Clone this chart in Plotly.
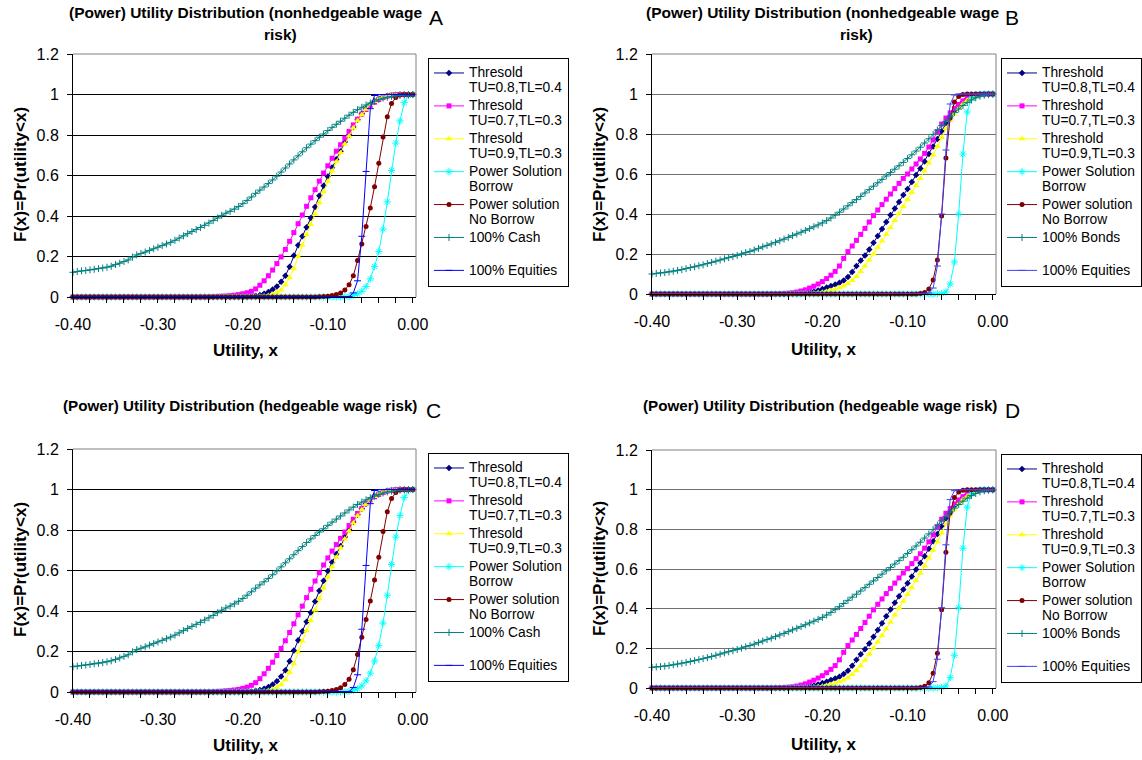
import plotly.graph_objects as go

FONT = "Liberation Sans, Arial, sans-serif"
W, H = 1142, 760

# ---------------- data (x grid and CDF values) ----------------
X = [-0.400, -0.395, -0.390, -0.385, -0.380, -0.375, -0.370, -0.365, -0.360, -0.355,
     -0.350, -0.345, -0.340, -0.335, -0.330, -0.325, -0.320, -0.315, -0.310, -0.305,
     -0.300, -0.295, -0.290, -0.285, -0.280, -0.275, -0.270, -0.265, -0.260, -0.255,
     -0.250, -0.245, -0.240, -0.235, -0.230, -0.225, -0.220, -0.215, -0.210, -0.205,
     -0.200, -0.195, -0.190, -0.185, -0.180, -0.175, -0.170, -0.165, -0.160, -0.155,
     -0.150, -0.145, -0.140, -0.135, -0.130, -0.125, -0.120, -0.115, -0.110, -0.105,
     -0.100, -0.095, -0.090, -0.085, -0.080, -0.075, -0.070, -0.065, -0.060, -0.055,
     -0.050, -0.045, -0.040, -0.035, -0.030, -0.025, -0.020, -0.015, -0.010, -0.005,
     0.000]

# Panel A: nonhedgeable wage risk
A_navy = [0, 0, 0, 0, 0, 0, 0, 0, 0, 0,
          0, 0, 0, 0, 0, 0, 0, 0, 0, 0,
          0, 0, 0, 0, 0, 0, 0, 0, 0, 0,
          0, 0, 0, 0, 0, 0, 0, 0, 0, 0,
          0, .001, .003, .006, .010, .016, .025, .037, .052, .075,
          .105, .150, .205, .255, .300, .345, .390, .445, .500, .550,
          .595, .640, .680, .720, .765, .800, .840, .875, .905, .930,
          .950, .967, .980, .988, .994, .997, .999, 1, 1, 1,
          1]
A_pink = [0, 0, 0, 0, 0, 0, 0, 0, 0, 0,
          0, 0, 0, 0, 0, 0, 0, 0, 0, 0,
          0, 0, 0, 0, 0, 0, 0, 0, 0, 0,
          0, .001, .001, .002, .003, .004, .005, .007, .009, .012,
          .016, .021, .028, .040, .058, .080, .105, .133, .165, .198,
          .235, .275, .318, .362, .405, .448, .490, .530, .572, .612,
          .648, .685, .720, .752, .785, .818, .850, .878, .903, .926,
          .946, .962, .975, .985, .992, .996, .999, 1, 1, 1,
          1]
A_yellow = [0, 0, 0, 0, 0, 0, 0, 0, 0, 0,
            0, 0, 0, 0, 0, 0, 0, 0, 0, 0,
            0, 0, 0, 0, 0, 0, 0, 0, 0, 0,
            0, 0, 0, 0, 0, 0, 0, 0, 0, 0,
            0, 0, 0, .001, .002, .004, .008, .014, .022, .035,
            .060, .095, .140, .200, .255, .308, .358, .410, .465, .520,
            .572, .622, .668, .712, .755, .795, .835, .870, .900, .927,
            .949, .966, .979, .988, .993, .997, .999, 1, 1, 1,
            1]
A_cyan = [0, 0, 0, 0, 0, 0, 0, 0, 0, 0,
          0, 0, 0, 0, 0, 0, 0, 0, 0, 0,
          0, 0, 0, 0, 0, 0, 0, 0, 0, 0,
          0, 0, 0, 0, 0, 0, 0, 0, 0, 0,
          0, 0, 0, 0, 0, 0, 0, 0, 0, 0,
          0, 0, 0, 0, 0, 0, 0, 0, 0, 0,
          0, 0, 0, 0, .001, .003, .008, .015, .028, .052,
          .090, .150, .225, .335, .470, .625, .760, .870, .960, .995,
          1]
A_darkred = [0, 0, 0, 0, 0, 0, 0, 0, 0, 0,
             0, 0, 0, 0, 0, 0, 0, 0, 0, 0,
             0, 0, 0, 0, 0, 0, 0, 0, 0, 0,
             0, 0, 0, 0, 0, 0, 0, 0, 0, 0,
             0, 0, 0, 0, 0, 0, 0, 0, 0, 0,
             0, 0, 0, 0, 0, 0, 0, 0, .001, .002,
             .004, .007, .012, .020, .035, .060, .105, .180, .262, .348,
             .440, .545, .660, .790, .890, .955, .985, .997, 1, 1,
             1]
A_cash = [.122, .126, .129, .131, .134, .137, .140, .143, .147, .152,
          .160, .167, .175, .183, .197, .208, .215, .222, .230, .238,
          .246, .254, .262, .270, .280, .291, .302, .313, .323, .333,
          .343, .354, .365, .377, .390, .403, .414, .423, .434, .447,
          .461, .477, .494, .512, .528, .543, .560, .578, .597, .617,
          .637, .657, .677, .697, .717, .737, .755, .772, .789, .805,
          .822, .838, .853, .868, .883, .898, .912, .925, .937, .948,
          .958, .967, .975, .982, .987, .991, .994, .996, .998, .999,
          1]
A_equity = [0, 0, 0, 0, 0, 0, 0, 0, 0, 0,
            0, 0, 0, 0, 0, 0, 0, 0, 0, 0,
            0, 0, 0, 0, 0, 0, 0, 0, 0, 0,
            0, 0, 0, 0, 0, 0, 0, 0, 0, 0,
            0, 0, 0, 0, 0, 0, 0, 0, 0, 0,
            0, 0, 0, 0, 0, 0, 0, 0, 0, 0,
            0, 0, 0, 0, 0, .002, .020, .080, .300, .620,
            .930, .995, 1, 1, 1, 1, 1, 1, 1, 1,
            1]

# Panel B: nonhedgeable wage risk (threshold / bonds version)
B_navy = [0, 0, 0, 0, 0, 0, 0, 0, 0, 0,
          0, 0, 0, 0, 0, 0, 0, 0, 0, 0,
          0, 0, 0, 0, 0, 0, 0, 0, 0, 0,
          0, 0, 0, .001, .002, .004, .006, .009, .013, .018,
          .025, .032, .040, .048, .056, .068, .085, .110, .140, .168,
          .192, .222, .256, .290, .325, .360, .395, .428, .460, .495,
          .525, .560, .595, .628, .662, .700, .738, .775, .815, .855,
          .890, .918, .942, .961, .976, .986, .993, .997, .999, 1,
          1]
B_pink = [0, 0, 0, 0, 0, 0, 0, 0, 0, 0,
          0, 0, 0, 0, 0, 0, 0, 0, 0, 0,
          0, 0, 0, 0, 0, 0, 0, 0, 0, .001,
          .002, .003, .004, .006, .010, .015, .021, .030, .039, .050,
          .062, .077, .094, .113, .140, .178, .212, .240, .268, .298,
          .328, .360, .392, .420, .447, .474, .500, .527, .553, .578,
          .600, .625, .650, .675, .703, .735, .770, .812, .850, .880,
          .905, .928, .948, .965, .978, .987, .993, .997, .999, 1,
          1]
B_yellow = [0, 0, 0, 0, 0, 0, 0, 0, 0, 0,
            0, 0, 0, 0, 0, 0, 0, 0, 0, 0,
            0, 0, 0, 0, 0, 0, 0, 0, 0, 0,
            0, 0, 0, 0, 0, 0, .001, .002, .004, .006,
            .009, .013, .018, .024, .031, .040, .052, .068, .088, .112,
            .140, .170, .200, .232, .265, .298, .332, .368, .403, .437,
            .472, .507, .542, .578, .615, .655, .695, .737, .782, .828,
            .868, .900, .928, .950, .967, .980, .989, .995, .998, 1,
            1]
B_cyan = [0, 0, 0, 0, 0, 0, 0, 0, 0, 0,
          0, 0, 0, 0, 0, 0, 0, 0, 0, 0,
          0, 0, 0, 0, 0, 0, 0, 0, 0, 0,
          0, 0, 0, 0, 0, 0, 0, 0, 0, 0,
          0, 0, 0, 0, 0, 0, 0, 0, 0, 0,
          0, 0, 0, 0, 0, 0, 0, 0, 0, 0,
          0, 0, 0, 0, 0, 0, 0, .001, .002, .010,
          .050, .160, .400, .700, .910, .980, .996, 1, 1, 1,
          1]
B_darkred = [0, 0, 0, 0, 0, 0, 0, 0, 0, 0,
             0, 0, 0, 0, 0, 0, 0, 0, 0, 0,
             0, 0, 0, 0, 0, 0, 0, 0, 0, 0,
             0, 0, 0, 0, 0, 0, 0, 0, 0, 0,
             0, 0, 0, 0, 0, 0, 0, 0, 0, 0,
             0, 0, 0, 0, 0, 0, 0, 0, 0, 0,
             0, 0, 0, .002, .008, .025, .070, .170, .390, .680,
             .880, .960, .988, .997, 1, 1, 1, 1, 1, 1,
             1]
B_bonds = [.100, .103, .105, .107, .110, .114, .118, .122, .127, .132,
           .136, .141, .146, .152, .158, .164, .170, .176, .182, .187,
           .193, .200, .207, .213, .220, .228, .236, .243, .250, .258,
           .266, .274, .283, .292, .300, .309, .318, .327, .336, .345,
           .355, .367, .380, .394, .409, .425, .441, .457, .472, .488,
           .505, .522, .539, .556, .573, .590, .607, .624, .641, .658,
           .677, .696, .715, .734, .755, .776, .798, .820, .842, .864,
           .886, .907, .925, .942, .957, .970, .981, .989, .994, .997,
           .999]
B_equity = [0, 0, 0, 0, 0, 0, 0, 0, 0, 0,
            0, 0, 0, 0, 0, 0, 0, 0, 0, 0,
            0, 0, 0, 0, 0, 0, 0, 0, 0, 0,
            0, 0, 0, 0, 0, 0, 0, 0, 0, 0,
            0, 0, 0, 0, 0, 0, 0, 0, 0, 0,
            0, 0, 0, 0, 0, 0, 0, 0, 0, 0,
            0, 0, 0, 0, .001, .005, .030, .140, .400, .720,
            .950, .995, 1, 1, 1, 1, 1, 1, 1, 1,
            1]

# Panel C: hedgeable wage risk
C_navy = [0, 0, 0, 0, 0, 0, 0, 0, 0, 0,
          0, 0, 0, 0, 0, 0, 0, 0, 0, 0,
          0, 0, 0, 0, 0, 0, 0, 0, 0, 0,
          0, 0, 0, 0, 0, 0, 0, 0, 0, 0,
          0, .001, .003, .006, .010, .016, .025, .037, .053, .077,
          .108, .152, .205, .255, .300, .347, .393, .447, .500, .550,
          .597, .641, .681, .721, .765, .802, .840, .875, .905, .930,
          .950, .967, .980, .988, .994, .997, .999, 1, 1, 1,
          1]
C_pink = [0, 0, 0, 0, 0, 0, 0, 0, 0, 0,
          0, 0, 0, 0, 0, 0, 0, 0, 0, 0,
          0, 0, 0, 0, 0, 0, 0, 0, 0, 0,
          0, .001, .001, .002, .003, .004, .006, .008, .010, .013,
          .018, .024, .033, .046, .066, .090, .117, .147, .180, .215,
          .253, .294, .337, .381, .424, .466, .507, .548, .589, .627,
          .662, .696, .728, .759, .790, .822, .853, .882, .907, .930,
          .949, .964, .976, .985, .992, .996, .999, 1, 1, 1,
          1]
C_yellow = [0, 0, 0, 0, 0, 0, 0, 0, 0, 0,
            0, 0, 0, 0, 0, 0, 0, 0, 0, 0,
            0, 0, 0, 0, 0, 0, 0, 0, 0, 0,
            0, 0, 0, 0, 0, 0, 0, 0, 0, 0,
            0, 0, 0, .001, .002, .004, .008, .014, .022, .036,
            .061, .096, .140, .198, .252, .303, .353, .405, .460, .515,
            .568, .619, .666, .711, .755, .795, .835, .870, .900, .927,
            .949, .966, .979, .988, .993, .997, .999, 1, 1, 1,
            1]
C_cyan = [0, 0, 0, 0, 0, 0, 0, 0, 0, 0,
          0, 0, 0, 0, 0, 0, 0, 0, 0, 0,
          0, 0, 0, 0, 0, 0, 0, 0, 0, 0,
          0, 0, 0, 0, 0, 0, 0, 0, 0, 0,
          0, 0, 0, 0, 0, 0, 0, 0, 0, 0,
          0, 0, 0, 0, 0, 0, 0, 0, 0, 0,
          0, 0, 0, 0, .001, .003, .008, .016, .030, .055,
          .093, .153, .230, .340, .478, .630, .765, .872, .960, .995,
          1]
C_darkred = [0, 0, 0, 0, 0, 0, 0, 0, 0, 0,
             0, 0, 0, 0, 0, 0, 0, 0, 0, 0,
             0, 0, 0, 0, 0, 0, 0, 0, 0, 0,
             0, 0, 0, 0, 0, 0, 0, 0, 0, 0,
             0, 0, 0, 0, 0, 0, 0, 0, 0, 0,
             0, 0, 0, 0, 0, 0, 0, 0, .001, .002,
             .004, .007, .012, .021, .037, .063, .110, .185, .270, .358,
             .450, .553, .665, .792, .890, .955, .985, .997, 1, 1,
             1]
C_cash = [.125, .128, .131, .133, .136, .139, .142, .145, .149, .154,
          .161, .168, .176, .184, .198, .209, .216, .223, .231, .239,
          .247, .255, .263, .271, .281, .292, .303, .314, .324, .334,
          .344, .355, .366, .378, .391, .404, .415, .424, .435, .448,
          .462, .478, .495, .513, .529, .544, .561, .579, .598, .618,
          .638, .658, .678, .698, .718, .738, .756, .773, .790, .806,
          .823, .839, .854, .869, .884, .899, .913, .926, .938, .949,
          .959, .968, .976, .983, .988, .992, .995, .997, .998, .999,
          1]
C_equity = [0, 0, 0, 0, 0, 0, 0, 0, 0, 0,
            0, 0, 0, 0, 0, 0, 0, 0, 0, 0,
            0, 0, 0, 0, 0, 0, 0, 0, 0, 0,
            0, 0, 0, 0, 0, 0, 0, 0, 0, 0,
            0, 0, 0, 0, 0, 0, 0, 0, 0, 0,
            0, 0, 0, 0, 0, 0, 0, 0, 0, 0,
            0, 0, 0, 0, 0, .002, .022, .085, .310, .625,
            .930, .995, 1, 1, 1, 1, 1, 1, 1, 1,
            1]

# Panel D: hedgeable wage risk (threshold / bonds version)
D_navy = [0, 0, 0, 0, 0, 0, 0, 0, 0, 0,
          0, 0, 0, 0, 0, 0, 0, 0, 0, 0,
          0, 0, 0, 0, 0, 0, 0, 0, 0, 0,
          0, 0, 0, .001, .002, .004, .006, .009, .013, .018,
          .025, .032, .040, .048, .057, .070, .087, .112, .142, .170,
          .195, .225, .258, .292, .327, .362, .396, .430, .462, .497,
          .528, .562, .597, .630, .664, .702, .740, .777, .817, .856,
          .890, .918, .942, .961, .976, .986, .993, .997, .999, 1,
          1]
D_pink = [0, 0, 0, 0, 0, 0, 0, 0, 0, 0,
          0, 0, 0, 0, 0, 0, 0, 0, 0, 0,
          0, 0, 0, 0, 0, 0, 0, 0, 0, .001,
          .002, .003, .004, .006, .010, .015, .021, .030, .039, .050,
          .062, .077, .094, .113, .142, .180, .214, .242, .270, .300,
          .330, .362, .394, .422, .449, .476, .502, .529, .555, .580,
          .602, .627, .652, .677, .705, .737, .772, .813, .851, .881,
          .905, .928, .948, .965, .978, .987, .993, .997, .999, 1,
          1]
D_yellow = [0, 0, 0, 0, 0, 0, 0, 0, 0, 0,
            0, 0, 0, 0, 0, 0, 0, 0, 0, 0,
            0, 0, 0, 0, 0, 0, 0, 0, 0, 0,
            0, 0, 0, 0, 0, 0, .001, .002, .004, .006,
            .009, .013, .018, .024, .031, .040, .052, .068, .088, .112,
            .140, .170, .200, .232, .265, .298, .332, .368, .403, .437,
            .472, .507, .542, .578, .615, .655, .695, .737, .782, .828,
            .868, .900, .928, .950, .967, .980, .989, .995, .998, 1,
            1]
D_cyan = [0, 0, 0, 0, 0, 0, 0, 0, 0, 0,
          0, 0, 0, 0, 0, 0, 0, 0, 0, 0,
          0, 0, 0, 0, 0, 0, 0, 0, 0, 0,
          0, 0, 0, 0, 0, 0, 0, 0, 0, 0,
          0, 0, 0, 0, 0, 0, 0, 0, 0, 0,
          0, 0, 0, 0, 0, 0, 0, 0, 0, 0,
          0, 0, 0, 0, 0, 0, 0, .001, .002, .010,
          .052, .165, .405, .705, .912, .980, .996, 1, 1, 1,
          1]
D_darkred = [0, 0, 0, 0, 0, 0, 0, 0, 0, 0,
             0, 0, 0, 0, 0, 0, 0, 0, 0, 0,
             0, 0, 0, 0, 0, 0, 0, 0, 0, 0,
             0, 0, 0, 0, 0, 0, 0, 0, 0, 0,
             0, 0, 0, 0, 0, 0, 0, 0, 0, 0,
             0, 0, 0, 0, 0, 0, 0, 0, 0, 0,
             0, 0, 0, .002, .009, .027, .075, .175, .395, .685,
             .882, .960, .988, .997, 1, 1, 1, 1, 1, 1,
             1]
D_bonds = [.104, .106, .108, .110, .113, .117, .121, .125, .129, .134,
           .138, .143, .148, .153, .159, .165, .171, .177, .183, .188,
           .194, .201, .208, .214, .221, .229, .237, .244, .251, .259,
           .267, .275, .284, .293, .301, .310, .319, .328, .337, .346,
           .356, .368, .381, .395, .410, .426, .442, .458, .473, .489,
           .506, .523, .540, .557, .574, .591, .608, .625, .642, .659,
           .678, .697, .716, .735, .756, .777, .799, .821, .843, .865,
           .887, .907, .925, .942, .957, .970, .981, .989, .994, .997,
           .999]
D_equity = [0, 0, 0, 0, 0, 0, 0, 0, 0, 0,
            0, 0, 0, 0, 0, 0, 0, 0, 0, 0,
            0, 0, 0, 0, 0, 0, 0, 0, 0, 0,
            0, 0, 0, 0, 0, 0, 0, 0, 0, 0,
            0, 0, 0, 0, 0, 0, 0, 0, 0, 0,
            0, 0, 0, 0, 0, 0, 0, 0, 0, 0,
            0, 0, 0, 0, .001, .005, .032, .145, .405, .722,
            .950, .995, 1, 1, 1, 1, 1, 1, 1, 1,
            1]

NAMES_AC = [["Thresold", "TU=0.8,TL=0.4"], ["Thresold", "TU=0.7,TL=0.3"],
            ["Thresold", "TU=0.9,TL=0.3"], ["Power Solution", "Borrow"],
            ["Power solution", "No Borrow"], ["100% Cash", "\u00a0"], ["100% Equities"]]
NAMES_BD = [["Threshold", "TU=0.8,TL=0.4"], ["Threshold", "TU=0.7,TL=0.3"],
            ["Threshold", "TU=0.9,TL=0.3"], ["Power Solution", "Borrow"],
            ["Power solution", "No Borrow"], ["100% Bonds", "\u00a0"], ["100% Equities"]]

XTICKVALS = [-0.4, -0.3, -0.2, -0.1, 0.0]
XTICKTEXT = ["-0.40", "-0.30", "-0.20", "-0.10", "0.00"]
YTICKVALS = [0, 0.2, 0.4, 0.6, 0.8, 1.0, 1.2]
YTICKTEXT = ["0", "0.2", "0.4", "0.6", "0.8", "1", "1.2"]

TITLE_NH = "(Power) Utility Distribution (nonhedgeable wage"
TITLE_H = "(Power) Utility Distribution (hedgeable wage risk)"

# ---------------- styles ----------------
COLORS = ["#000080", "#FF00FF", "#FFFF00", "#00FFFF", "#800000", "#008080", "#0000FF"]
SYMBOLS = ["diamond", "square", "triangle-up", "asterisk", "circle", "cross-thin", "line-ew"]
MSIZE = [5, 5, 6, 6, 5, 5, 5]
MLW = [0, 0, 0, 1, 0, 1, 1]

PANELS = [
    dict(series=[A_navy, A_pink, A_yellow, A_cyan, A_darkred, A_cash, A_equity], names=NAMES_AC,
         xpx=(73, 416), ypx=(54, 297), grid="#000000", leg=(428, 58)),
    dict(series=[B_navy, B_pink, B_yellow, B_cyan, B_darkred, B_bonds, B_equity], names=NAMES_BD,
         xpx=(652, 996), ypx=(54, 294), grid="#707070", leg=(1001, 58)),
    dict(series=[C_navy, C_pink, C_yellow, C_cyan, C_darkred, C_cash, C_equity], names=NAMES_AC,
         xpx=(73, 416), ypx=(449, 692), grid="#000000", leg=(428, 453)),
    dict(series=[D_navy, D_pink, D_yellow, D_cyan, D_darkred, D_bonds, D_equity], names=NAMES_BD,
         xpx=(652, 996), ypx=(450, 688), grid="#707070", leg=(1001, 454)),
]


def lab(lines):
    return "<br>".join("<span style='font-size:13.8px'>%s</span>" % s for s in lines)


fig = go.Figure()
layout = dict(width=W, height=H, margin=dict(l=0, r=0, t=0, b=0, autoexpand=False),
              paper_bgcolor="white", plot_bgcolor="white", showlegend=True,
              font=dict(family=FONT, color="black"))
shapes = []

for p, P in enumerate(PANELS):
    sfx = "" if p == 0 else str(p + 1)
    xa, ya = "x" + sfx, "y" + sfx
    legid = "legend" + sfx
    for k, ys in enumerate(P["series"]):
        col = COLORS[k]
        if p in (1, 3) and k == 6:
            col = "#3F3FFF"
        fig.add_trace(go.Scatter(
            x=X, y=ys, mode="lines+markers", name=lab(P["names"][k]),
            line=dict(color=col, width=1),
            marker=dict(symbol=SYMBOLS[k], size=MSIZE[k], color=col,
                        line=dict(color=col, width=MLW[k])),
            xaxis=xa, yaxis=ya, legend=legid, cliponaxis=False, hoverinfo="skip"))
    x0, x1 = P["xpx"]
    y0, y1 = P["ypx"]
    layout["xaxis" + sfx] = dict(
        domain=[x0 / W, x1 / W], range=[-0.4, 0.0038], anchor=ya,
        tickmode="array", tickvals=XTICKVALS, ticktext=XTICKTEXT,
        ticks="outside", ticklen=5, tickcolor="black", showgrid=False, zeroline=False,
        showline=True, linecolor="black", linewidth=1,
        tickfont=dict(family=FONT, size=16, color="black"), ticklabelstandoff=8,
        minor=dict(tickmode="linear", tick0=0, dtick=0.02, ticks="outside", ticklen=5,
                   tickcolor="black", showgrid=False))
    layout["yaxis" + sfx] = dict(
        domain=[1 - y1 / H, 1 - y0 / H], range=[0, 1.2], anchor=xa,
        tickmode="array", tickvals=YTICKVALS, ticktext=YTICKTEXT,
        ticks="outside", ticklen=5, tickcolor="black", showgrid=True, gridcolor=P["grid"],
        gridwidth=1, zeroline=False, showline=True, linecolor="black", linewidth=1,
        tickfont=dict(family=FONT, size=16, color="black"), ticklabelstandoff=5)
    # gray frame (top and right edges)
    shapes.append(dict(type="line", xref=xa + " domain", yref=ya + " domain",
                       x0=0, x1=1, y0=1, y1=1, line=dict(color="#808080", width=1), layer="above"))
    shapes.append(dict(type="line", xref=xa + " domain", yref=ya + " domain",
                       x0=1, x1=1, y0=0, y1=1, line=dict(color="#808080", width=1), layer="above"))
    lx, ly = P["leg"]
    layout[legid] = dict(x=lx / W, y=1 - ly / H, xanchor="left", yanchor="top",
                         bordercolor="black", borderwidth=1, bgcolor="white",
                         font=dict(family=FONT, size=11.5, color="black"),
                         valign="top", itemwidth=30, tracegroupgap=0,
                         itemclick=False, itemdoubleclick=False)

layout["shapes"] = shapes


def ann(text, px, py, size, bold=False, angle=0):
    return dict(text=("<b>%s</b>" % text) if bold else text, x=px / W, y=1 - py / H,
                xref="paper", yref="paper", xanchor="center", yanchor="middle",
                showarrow=False, textangle=angle,
                font=dict(family=FONT, size=size, color="black"))


annotations = [
    ann(TITLE_NH, 245, 13, 15.5, True), ann("risk)", 280, 35, 15.5, True),
    ann(TITLE_NH, 822, 13, 15.5, True), ann("risk)", 856, 35, 15.5, True),
    ann(TITLE_H, 240, 405, 15.2, True), ann(TITLE_H, 820, 405, 15.2, True),
    ann("A", 436, 18, 21), ann("B", 1012, 18, 21),
    ann("C", 433, 410, 21), ann("D", 1012, 410, 21),
    ann("F(x)=Pr(utility<x)", 20, 175, 17, True, -90),
    ann("F(x)=Pr(utility<x)", 599, 175, 17, True, -90),
    ann("F(x)=Pr(utility<x)", 20, 570, 17, True, -90),
    ann("F(x)=Pr(utility<x)", 599, 569, 17, True, -90),
    ann("Utility, x", 245, 350, 17, True), ann("Utility, x", 823, 349, 17, True),
    ann("Utility, x", 245, 745, 17, True), ann("Utility, x", 823, 744, 17, True),
]
layout["annotations"] = annotations

fig.update_layout(**layout)
fig.write_html("out.html", config={"displayModeBar": False},
               post_script="document.body.style.margin='0px';document.body.style.overflow='hidden';")
